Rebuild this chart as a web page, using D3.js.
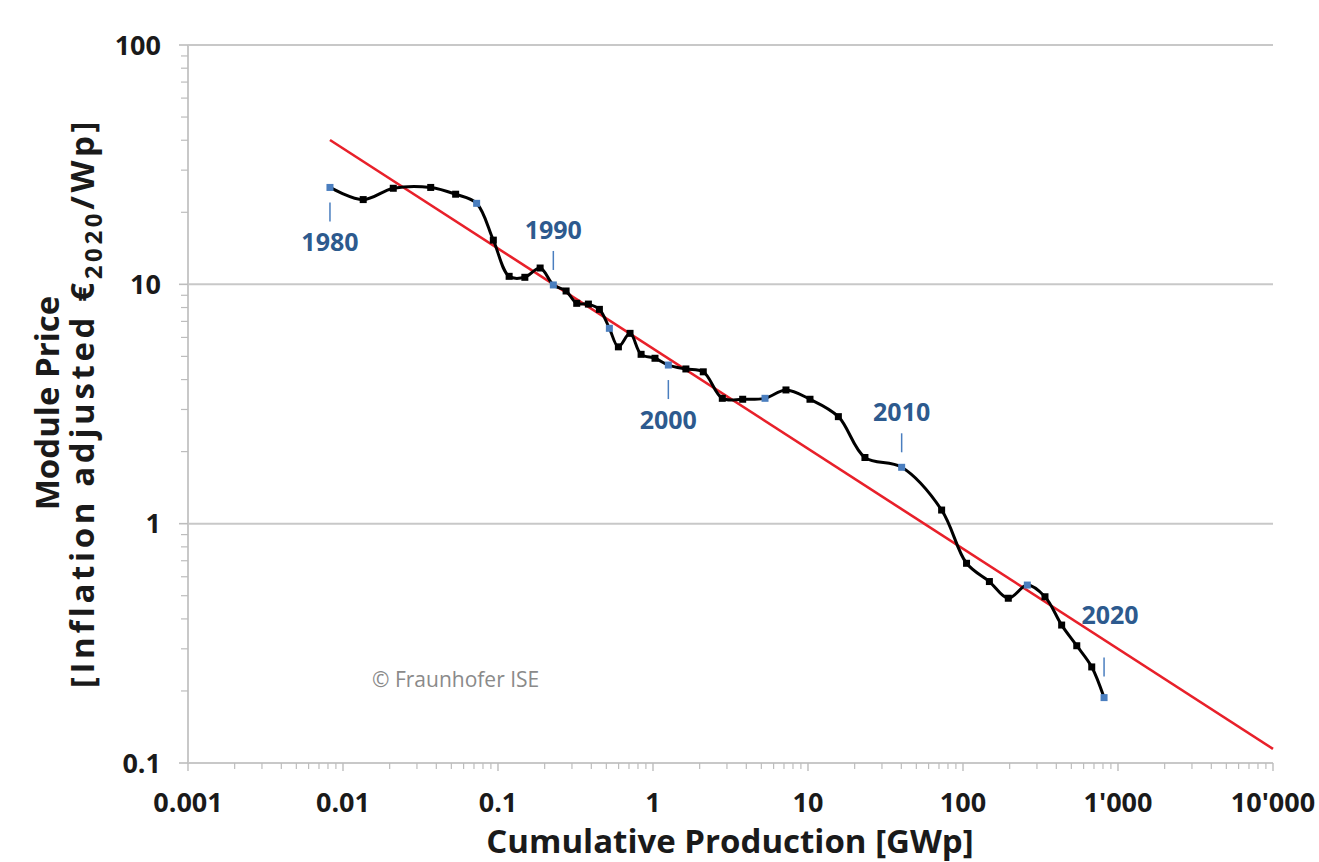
<!DOCTYPE html>
<html>
<head>
<meta charset="utf-8">
<script src="https://cdn.jsdelivr.net/npm/d3@7"></script>
<style>
  html, body { margin: 0; padding: 0; background: #fff; }
  svg { display: block; }
  text { font-family: "Open Sans", "Noto Sans", sans-serif; }
</style>
</head>
<body>
<div id="chart"></div>
<script>
// ---------------- data ----------------
const years = d3.range(1980, 2021);
const cumulativeProduction = [ // GWp
  0.00824, 0.0135, 0.0211, 0.0368, 0.0533, 0.0728, 0.0933, 0.118, 0.149, 0.187,
  0.2275, 0.275, 0.322, 0.383, 0.451, 0.523, 0.598, 0.711, 0.838, 1.03,
  1.256, 1.63, 2.11, 2.80, 3.79, 5.28, 7.21, 10.3, 15.7, 23.3,
  40.2, 72.8, 105.4, 148, 196, 260, 338, 433, 542, 677,
  813
];
const modulePrice = [ // inflation adjusted EUR2020/Wp
  25.4, 22.6, 25.2, 25.4, 23.8, 21.8, 15.3, 10.8, 10.7, 11.7,
  9.94, 9.38, 8.33, 8.27, 7.86, 6.55, 5.48, 6.24, 5.10, 4.91,
  4.60, 4.43, 4.31, 3.34, 3.31, 3.34, 3.62, 3.31, 2.80, 1.89,
  1.72, 1.14, 0.683, 0.573, 0.488, 0.554, 0.495, 0.377, 0.309, 0.252,
  0.1876
];
const fitProduction = [0.00824, 10000];
const fitPrice = [40.1, 0.1145];
const labelYears = [1980, 1990, 2000, 2010, 2020];
const labelSide = ["below", "above", "below", "above", "above"];
const xTickValues = [0.001, 0.01, 0.1, 1, 10, 100, 1000, 10000];
const xTickLabels = ["0.001", "0.01", "0.1", "1", "10", "100", "1'000", "10'000"];
const yTickValues = [0.1, 1, 10, 100];
const yTickLabels = ["0.1", "1", "10", "100"];

// ---------------- layout ----------------
const W = 1319, H = 862;
const svg = d3.select("#chart").append("svg").attr("width", W).attr("height", H);
svg.append("rect").attr("width", W).attr("height", H).attr("fill", "#fff");

const x = d3.scaleLog().domain([0.001, 10000]).range([188, 1273]);
const y = d3.scaleLog().domain([0.1, 100]).range([763, 45]);

const gridColor = "#c8c8c8";
const ink = "#1a1a1a";

// gridlines
svg.append("g").selectAll("line").data(yTickValues.slice(1)).join("line")
  .attr("x1", x.range()[0]).attr("x2", x.range()[1])
  .attr("y1", d => y(d)).attr("y2", d => y(d))
  .attr("stroke", gridColor).attr("stroke-width", 2);

// minor tick values
const minorX = [];
for (let e = -3; e < 4; e++) for (let m = 2; m <= 9; m++) minorX.push(m * Math.pow(10, e));
const minorY = [];
for (let e = -1; e < 2; e++) for (let m = 2; m <= 9; m++) minorY.push(m * Math.pow(10, e));

// x axis
const xAxis = svg.append("g").attr("transform", `translate(0,${y.range()[0]})`);
xAxis.append("line").attr("x1", x.range()[0]).attr("x2", x.range()[1])
  .attr("stroke", gridColor).attr("stroke-width", 2);
xAxis.selectAll("line.minor").data(minorX).join("line").attr("class", "minor")
  .attr("x1", d => x(d)).attr("x2", d => x(d)).attr("y1", 0).attr("y2", 6)
  .attr("stroke", "#bdbdbd").attr("stroke-width", 1.2);
xAxis.selectAll("line.major").data(xTickValues).join("line").attr("class", "major")
  .attr("x1", d => x(d)).attr("x2", d => x(d)).attr("y1", 0).attr("y2", 8)
  .attr("stroke", "#bdbdbd").attr("stroke-width", 1.4);
xAxis.selectAll("text").data(xTickValues).join("text")
  .attr("x", d => x(d)).attr("y", 49)
  .attr("text-anchor", "middle")
  .attr("font-size", 27).attr("font-weight", 700).attr("fill", ink)
  .text((d, i) => xTickLabels[i]);

// y axis
const yAxis = svg.append("g").attr("transform", `translate(${x.range()[0]},0)`);
yAxis.append("line").attr("y1", y.range()[0]).attr("y2", y.range()[1])
  .attr("stroke", gridColor).attr("stroke-width", 2);
yAxis.selectAll("line.minor").data(minorY).join("line").attr("class", "minor")
  .attr("y1", d => y(d)).attr("y2", d => y(d)).attr("x1", 0).attr("x2", -7)
  .attr("stroke", "#bdbdbd").attr("stroke-width", 1.2);
yAxis.selectAll("line.major").data(yTickValues).join("line").attr("class", "major")
  .attr("y1", d => y(d)).attr("y2", d => y(d)).attr("x1", 0).attr("x2", -9)
  .attr("stroke", "#bdbdbd").attr("stroke-width", 1.6);
yAxis.selectAll("text").data(yTickValues).join("text")
  .attr("x", -27).attr("y", d => y(d)).attr("dy", "0.36em")
  .attr("text-anchor", "end")
  .attr("font-size", 27).attr("font-weight", 700).attr("fill", ink)
  .text((d, i) => yTickLabels[i]);

// axis titles
svg.append("text").attr("x", 730).attr("y", 853)
  .attr("text-anchor", "middle").attr("font-size", 33).attr("font-weight", 700)
  .attr("fill", ink).text("Cumulative Production [GWp]");

const yTitleCenter = 403;
svg.append("text")
  .attr("transform", `translate(0,${yTitleCenter}) rotate(-90)`)
  .attr("text-anchor", "middle").attr("font-size", 33).attr("font-weight", 700)
  .attr("fill", ink).attr("x", 0).attr("y", 59).text("Module Price");

const line2 = svg.append("text")
  .attr("font-size", 33).attr("font-weight", 700)
  .attr("fill", ink).attr("x", 0).attr("y", 94);
line2.append("tspan").text("[Inflation adjusted €");
line2.append("tspan").attr("font-size", 24).attr("dy", 8).text("2020");
line2.append("tspan").attr("dy", -8).text("/Wp]");
// stretch to the reference length and centre on the title axis
const targetLen = 570;
let bb = line2.node().getBBox();
const nChars = "[Inflation adjusted €2020/Wp]".length;
line2.attr("letter-spacing", Math.max(0, (targetLen - bb.width) / nChars));
bb = line2.node().getBBox();
line2.attr("transform", `translate(0,${yTitleCenter}) rotate(-90) translate(${-(bb.x + bb.width / 2)},0)`);

// copyright
svg.append("text").attr("x", 372).attr("y", 687).attr("font-size", 21)
  .attr("fill", "#8a8a8a").text("© Fraunhofer ISE");

// fit line
svg.append("line")
  .attr("x1", x(fitProduction[0])).attr("y1", y(fitPrice[0]))
  .attr("x2", x(fitProduction[1])).attr("y2", y(fitPrice[1]))
  .attr("stroke", "#e8202a").attr("stroke-width", 2.6);

// data line
const pts = years.map((yr, i) => ({ yr, cp: cumulativeProduction[i], p: modulePrice[i] }));
svg.append("path").datum(pts)
  .attr("fill", "none").attr("stroke", "#000").attr("stroke-width", 3)
  .attr("d", d3.line().x(d => x(d.cp)).y(d => y(d.p)).curve(d3.curveCatmullRom.alpha(0.5)));

// markers
svg.append("g").selectAll("rect").data(pts).join("rect")
  .attr("x", d => x(d.cp) - 3.5).attr("y", d => y(d.p) - 3.5)
  .attr("width", 7).attr("height", 7)
  .attr("fill", d => d.yr % 5 === 0 ? "#4a7ebf" : "#000");

// year labels
const blue = "#2d5a8e";
labelYears.forEach((yr, i) => {
  const d = pts.find(p => p.yr === yr);
  const px = x(d.cp), py = y(d.p);
  const below = labelSide[i] === "below";
  const last = yr === 2020;
  const gap = last ? 21 : 15;
  const t0 = below ? py + gap : py - gap;
  const t1 = below ? t0 + 19 : t0 - 19;
  svg.append("line").attr("x1", px).attr("x2", px).attr("y1", t0).attr("y2", t1)
    .attr("stroke", "#4a7ebf").attr("stroke-width", 1.5);
  svg.append("text")
    .attr("x", px + (last ? 6 : 0))
    .attr("y", below ? t1 + 30 : t1 - (last ? 34 : 12))
    .attr("text-anchor", "middle").attr("font-size", 25).attr("font-weight", 700)
    .attr("fill", blue).text(String(yr));
});
</script>
</body>
</html>
